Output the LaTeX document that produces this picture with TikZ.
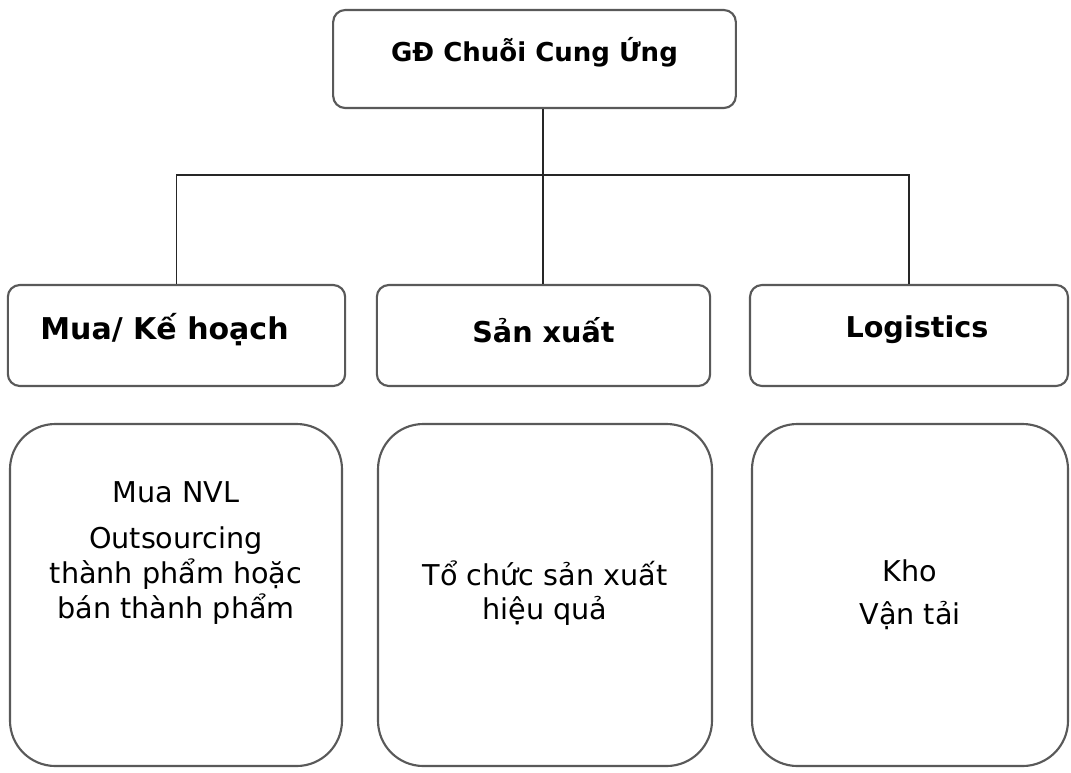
\documentclass[tikz,border=0pt]{standalone}
\usepackage{fontspec}
\setmainfont{DejaVu Sans}
\begin{document}
\begin{tikzpicture}[x=0.75pt,y=-0.75pt,
  box/.style={draw=black!65,line width=1.6pt,inner sep=0pt},
  head/.style={box,rounded corners=9pt,minimum height=75.75pt},
  body/.style={box,rounded corners=34pt,minimum height=256.5pt},
  ttl/.style={font=\fontsize{21.5}{24}\selectfont\bfseries},
  txt/.style={font=\fontsize{21.5}{26}\selectfont,align=center},
  conn/.style={draw=black!85,line width=1.1pt}]
\useasboundingbox (0,0) rectangle (1071,772);
% top box
\node[box,rounded corners=9pt,minimum width=302pt,minimum height=73.5pt] (top) at (534.5,59) {};
\node[ttl,font=\fontsize{19.5}{24}\selectfont\bfseries] (toptxt) at (534.5,52) {GĐ Chuỗi Cung Ứng};
% heads
\node[head,minimum width=253pt] (mk) at (176.5,335.5) {};
\node[head,minimum width=250pt] (sx) at (543.5,335.5) {};
\node[head,minimum width=238.5pt] (lg) at (909,335.5) {};
\node[ttl,font=\fontsize{22.5}{24}\selectfont\bfseries] (mktxt) at (164.5,330) {Mua/ Kế hoạch};
\node[ttl] (sxtxt) at (543.5,330) {Sản xuất};
\node[ttl] (lgtxt) at (917,330) {Logistics};
% bodies
\node[body,minimum width=249pt] (b1) at (176,595) {};
\node[body,minimum width=250.5pt] (b2) at (545,595) {};
\node[body,minimum width=237pt] (b3) at (910,595) {};
\node[txt] (t1) at (176,553) {Mua NVL\\[8.5pt]Outsourcing\\thành phẩm hoặc\\bán thành phẩm};
\node[txt] (t2) at (545,593) {Tổ chức sản xuất\\hiệu quả};
\node[txt] (t3) at (910,595) {Kho\\[6pt]Vận tải};
% connectors
\coordinate (j) at (543,175);
\draw[conn] (top.south -| j) -- (sx.north -| j);
\draw[conn] (mk.north) |- (j) -| (lg.north);
\end{tikzpicture}
\end{document}
